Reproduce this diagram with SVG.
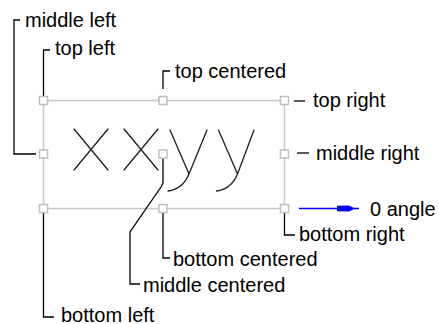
<svg xmlns="http://www.w3.org/2000/svg" width="439" height="324" viewBox="0 0 439 324">
<style>
.lbl{font-family:"Liberation Sans",Arial,sans-serif;font-size:20px;fill:#000}
.con{fill:none;stroke:#000;stroke-width:1.3}
.frame{fill:none;stroke:#c8c8c8;stroke-width:1.5}
.h{fill:#fff;stroke:#c0c0c0;stroke-width:1.5}
.glyph{fill:none;stroke:#1e1e1e;stroke-width:1.3;stroke-linecap:round}
</style>
<defs>
<rect id="hd" x="-4" y="-4" width="8" height="8"/>
</defs>
<rect width="439" height="324" fill="#fff"/>
<g id="frame">
<rect class="frame" x="43.5" y="100.5" width="241" height="108"/>
</g>
<g id="sample-text">
<path class="glyph" d="M74,129 L108,170 M108,129 L74,170"/>
<path class="glyph" d="M124,129 L158,170 M158,129 L124,170"/>
<path class="glyph" d="M170,130 L189,174 M207,130 L189,174 Q183,189 168,191"/>
<path class="glyph" d="M218.5,130 L237.5,174 M254,130 L237.5,174 Q231.5,189 216.5,191"/>
</g>
<g id="connectors">
<path class="con" d="M20,20 H14 V154 H36"/>
<path class="con" d="M50,50 H43.5 V96"/>
<path class="con" d="M170,71 H163 V89"/>
<path class="con" d="M294,101 H305"/>
<path class="con" d="M297,153 H309"/>
<path class="con" d="M43.5,213 V317 H54"/>
<path class="con" d="M163,213 V258 H170"/>
<path class="con" d="M163,158.5 V183 L161,187 L130,232 V284 H140"/>
<path class="con" d="M284.5,213 V235 H295"/>
<g id="zero-angle-arrow">
<path d="M299,208.5 H359" stroke="#0000ff" stroke-width="1.3" fill="none"/>
<polygon points="337,205.8 349,205.5 355,208.5 349,211.5 337,211.2" fill="#0000ff"/>
</g>
</g>
<g id="handles">
<use href="#hd" class="h" x="43.5" y="100.5"/>
<use href="#hd" class="h" x="163" y="100.5"/>
<use href="#hd" class="h" x="284.5" y="100.5"/>
<use href="#hd" class="h" x="43.5" y="154"/>
<use href="#hd" class="h" x="163" y="154"/>
<use href="#hd" class="h" x="284.5" y="154"/>
<use href="#hd" class="h" x="43.5" y="208.5"/>
<use href="#hd" class="h" x="163" y="208.5"/>
<use href="#hd" class="h" x="284.5" y="208.5"/>
</g>
<g id="label-middle-left"><text class="lbl" x="25" y="26.5">middle left</text></g>
<g id="label-top-left"><text class="lbl" x="55" y="55">top left</text></g>
<g id="label-top-centered"><text class="lbl" x="175" y="78">top centered</text></g>
<g id="label-top-right"><text class="lbl" x="313" y="107">top right</text></g>
<g id="label-middle-right"><text class="lbl" x="316" y="160">middle right</text></g>
<g id="label-zero-angle"><text class="lbl" x="370" y="215.5">0 angle</text></g>
<g id="label-bottom-right"><text class="lbl" x="299" y="240.5">bottom right</text></g>
<g id="label-bottom-centered"><text class="lbl" x="173" y="266">bottom centered</text></g>
<g id="label-middle-centered"><text class="lbl" x="143" y="291.5">middle centered</text></g>
<g id="label-bottom-left"><text class="lbl" x="61" y="321.5">bottom left</text></g>
</svg>
